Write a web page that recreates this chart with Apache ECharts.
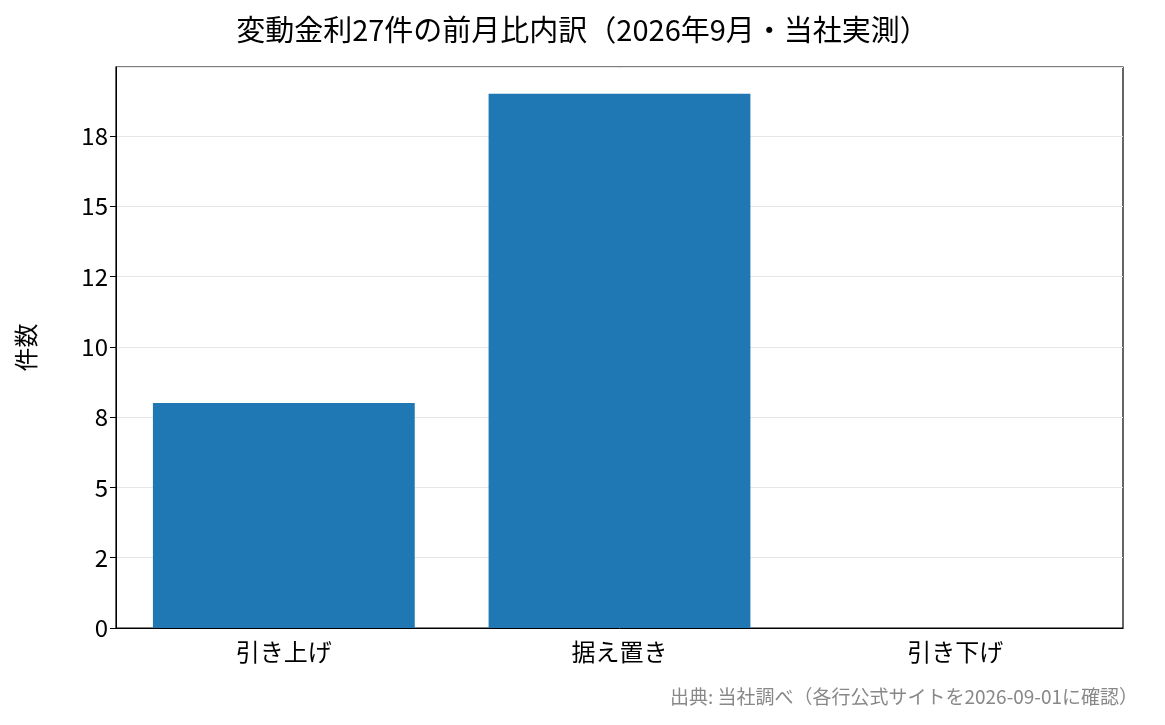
<!DOCTYPE html>
<html><head><meta charset="utf-8">
<script src="https://cdn.jsdelivr.net/npm/echarts@6/dist/echarts.min.js"></script>
<style>html,body{margin:0;padding:0;background:#fff}#c{width:1165px;height:725px}</style>
</head><body><div id="c"></div>
<script>
const categories = ["引き上げ", "据え置き", "引き下げ"];
const counts = [8, 19, 0];
const tickValues = [0, 2.5, 5, 7.5, 10, 12.5, 15, 17.5];
const tickLabels = ["0", "2", "5", "8", "10", "12", "15", "18"];
const titleText = "変動金利27件の前月比内訳（2026年9月・当社実測）";
const yName = "件数";
const sourceText = "出典: 当社調べ（各行公式サイトを2026-09-01に確認）";
const font = '"Noto Sans CJK JP", "Noto Sans", sans-serif';
const chart = echarts.init(document.getElementById('c'));
chart.setOption({
  animation: false,
  title: [{text: titleText, left: 'center', top: 10, textStyle: {fontFamily: font, fontSize: 29, fontWeight: 'normal', color: '#000'}},
          {text: sourceText, right: 22, bottom: 14, textStyle: {fontFamily: font, fontSize: 19, fontWeight: 'normal', color: '#888'}}],
  grid: {left: 116, right: 42, top: 67, bottom: 97, show: true, borderColor: '#000', borderWidth: 1.2},
  xAxis: {type: 'category', data: categories,
    axisLine: {lineStyle: {color: '#000'}}, axisTick: {alignWithLabel: true, length: 6, lineStyle: {color: '#000'}},
    axisLabel: {fontFamily: font, fontSize: 24, color: '#000', margin: 12}},
  yAxis: {type: 'value', min: 0, max: 19.95, interval: 2.5, name: yName, nameLocation: 'middle', nameGap: 78,
    nameTextStyle: {fontFamily: font, fontSize: 24, color: '#000'},
    axisLine: {show: true, lineStyle: {color: '#000'}}, axisTick: {show: true, length: 6, lineStyle: {color: '#000'}},
    splitLine: {lineStyle: {color: '#e6e6e6'}},
    axisLabel: {fontFamily: font, fontSize: 24, color: '#000', showMaxLabel: false,
      formatter: v => { const i = tickValues.findIndex(t => Math.abs(t - v) < 1e-6); return i >= 0 ? tickLabels[i] : ''; }}},
  series: [{type: 'bar', data: counts, barWidth: '78%', itemStyle: {color: '#1f77b4'}, z: 1}]
});
</script></body></html>
